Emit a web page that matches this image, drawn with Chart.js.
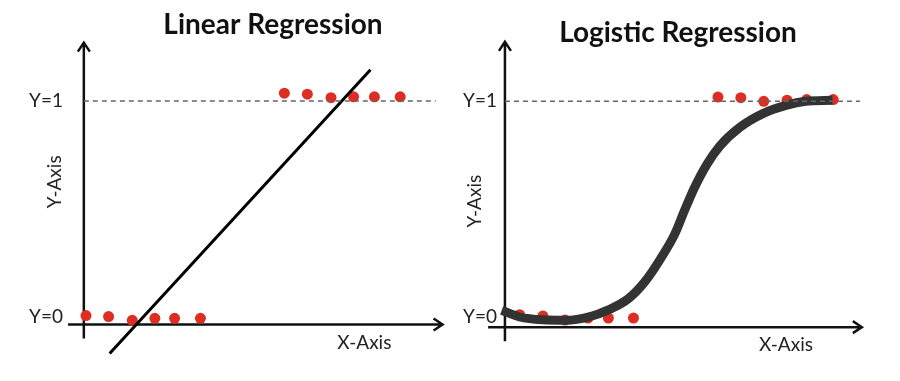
<!DOCTYPE html>
<html>
<head>
<meta charset="utf-8">
<script src="https://cdn.jsdelivr.net/npm/chart.js@4.4.0/dist/chart.umd.min.js"></script>
<style>
  html, body { margin: 0; padding: 0; background: #fff; }
  #wrap { position: relative; width: 900px; height: 381px; overflow: hidden; }
  canvas { position: absolute; top: 0; }
  #linearChart { left: 0; }
  #logisticChart { left: 450px; }
</style>
</head>
<body>
<div id="wrap">
  <canvas id="linearChart" width="546" height="381"></canvas>
  <canvas id="logisticChart" width="456" height="381"></canvas>
</div>
<script>
// ---- data ----
// linear regression panel
const linTopX = [5.59, 6.23, 6.89, 7.52, 8.10, 8.82];
const linTopY = [1.036, 1.031, 1.015, 1.019, 1.019, 1.019];
const linLowX = [0.06, 0.69, 1.35, 1.98, 2.53, 3.25];
const linLowY = [0.005, 0, -0.017, -0.008, -0.008, -0.008];
const linFitX = [0.72, 7.99];
const linFitY = [-0.171, 1.144];
const linRefX = [0, 9.81];

// logistic regression panel
const logTopX = [5.95, 6.59, 7.23, 7.88, 8.43, 9.17];
const logTopY = [1.020, 1.017, 1.0, 1.005, 1.008, 1.008];
const logLowX = [0.41, 1.06, 1.68, 2.32, 2.89, 3.59];
const logLowY = [0.011, 0.005, -0.014, -0.005, -0.005, -0.005];
const logFitX = [-0.09, 0.41, 1.05, 1.71, 2.34, 2.89, 3.44, 3.91, 4.35, 4.74, 5.01, 5.29, 5.65, 6.01, 6.56, 7.22, 7.85, 8.40, 9.15];
const logFitY = [0.031, 0, -0.013, -0.015, 0, 0.033, 0.084, 0.164, 0.271, 0.383, 0.491, 0.598, 0.710, 0.794, 0.879, 0.944, 0.981, 1.0, 1.005];
const logRefX = [0, 9.92];

const yTicks = [0, 1];

const RED = '#dc2e22';
const FONT = 'Lato, "Open Sans", sans-serif';

const pts = (xs, ys) => xs.map((x, i) => ({ x, y: ys[i] }));

// axes with arrow heads + axis names
const axisArrows = {
  id: 'axisArrows',
  beforeDatasetsDraw(chart, args, o) {
    const { ctx, scales: { x, y } } = chart;
    const ax = x.getPixelForValue(0);
    const ay = y.getPixelForValue(o.xAxisAt);
    const top = y.getPixelForValue(o.yTop);
    const bot = y.getPixelForValue(o.yBottom);
    const left = x.getPixelForValue(o.xLeft);
    const right = x.getPixelForValue(o.xRight);
    ctx.save();
    ctx.strokeStyle = '#111';
    ctx.lineWidth = 2.5;
    ctx.beginPath();
    ctx.moveTo(ax, bot); ctx.lineTo(ax, top);
    ctx.moveTo(ax - 6, top + 9); ctx.lineTo(ax, top); ctx.lineTo(ax + 6, top + 9);
    ctx.moveTo(left, ay); ctx.lineTo(right, ay);
    ctx.moveTo(right - 9, ay - 6); ctx.lineTo(right, ay); ctx.lineTo(right - 9, ay + 6);
    ctx.stroke();
    ctx.restore();
  },
  afterDraw(chart, args, o) {
    const { ctx, scales: { x, y } } = chart;
    ctx.save();
    ctx.fillStyle = '#222';
    ctx.font = '19px ' + FONT;
    ctx.textAlign = 'center';
    ctx.textBaseline = 'middle';
    ctx.fillText('X-Axis', x.getPixelForValue(o.xName[0]), y.getPixelForValue(o.xName[1]));
    ctx.translate(x.getPixelForValue(o.yName[0]), y.getPixelForValue(o.yName[1]));
    ctx.rotate(-Math.PI / 2);
    ctx.fillText('Y-Axis', 0, 0);
    ctx.restore();
  }
};

function makePanel(id, cfg) {
  return new Chart(document.getElementById(id), {
    type: 'scatter',
    data: {
      datasets: [
        {
          data: pts(cfg.refX, [1, 1]),
          showLine: true,
          borderColor: '#666',
          borderWidth: 1.5,
          borderDash: [5, 4],
          pointRadius: 0,
          clip: false
        },
        {
          data: pts(cfg.fitX, cfg.fitY),
          showLine: true,
          borderColor: cfg.fitColor,
          borderWidth: cfg.fitWidth,
          cubicInterpolationMode: 'monotone',
          pointRadius: 0,
          clip: false
        },
        {
          data: pts(cfg.lowX, cfg.lowY).concat(pts(cfg.topX, cfg.topY)),
          backgroundColor: RED,
          borderWidth: 0,
          pointRadius: 5.5,
          clip: false
        }
      ]
    },
    options: {
      responsive: false,
      animation: false,
      events: [],
      layout: { padding: 0 },
      plugins: {
        legend: { display: false },
        tooltip: { enabled: false },
        title: {
          display: true,
          text: cfg.title,
          color: '#111',
          font: { family: FONT, size: 28, weight: 'bold' },
          padding: { top: cfg.titleTop, bottom: 0 }
        },
        axisArrows: cfg.axes
      },
      scales: {
        x: { type: 'linear', display: false, min: cfg.xMin, max: cfg.xMax },
        y: {
          type: 'linear',
          min: cfg.yMin,
          max: cfg.yMax,
          afterBuildTicks: s => { s.ticks = yTicks.map(v => ({ value: v })); },
          afterFit: s => { s.width = cfg.yWidth; },
          grid: { display: false, drawTicks: false },
          border: { display: false },
          ticks: {
            color: '#222',
            padding: cfg.tickPad,
            font: { family: FONT, size: 19 },
            callback: v => 'Y=' + v
          }
        }
      }
    },
    plugins: [axisArrows]
  });
}

makePanel('linearChart', {
  title: 'Linear Regression', titleTop: 8.2,
  topX: linTopX, topY: linTopY, lowX: linLowX, lowY: linLowY,
  fitX: linFitX, fitY: linFitY, refX: linRefX,
  fitColor: '#000', fitWidth: 3,
  xMin: -0.33, xMax: 12.73, yMin: -0.204, yMax: 1.274,
  yWidth: 72, tickPad: 9,
  axes: { xAxisAt: -0.037, yTop: 1.27, yBottom: -0.102, xLeft: -0.44, xRight: 10.0,
          xName: [7.82, -0.12], yName: [-0.80, 0.625] }
});

makePanel('logisticChart', {
  title: 'Logistic Regression', titleTop: 16.2,
  topX: logTopX, topY: logTopY, lowX: logLowX, lowY: logLowY,
  fitX: logFitX, fitY: logFitY, refX: logRefX,
  fitColor: '#333', fitWidth: 9,
  xMin: -0.138, xMax: 11.05, yMin: -0.23, yMax: 1.239,
  yWidth: 50, tickPad: 3,
  axes: { xAxisAt: -0.047, yTop: 1.276, yBottom: -0.112, xLeft: -0.47, xRight: 9.97,
          xName: [7.85, -0.131], yName: [-0.83, 0.537] }
});
</script>
</body>
</html>
